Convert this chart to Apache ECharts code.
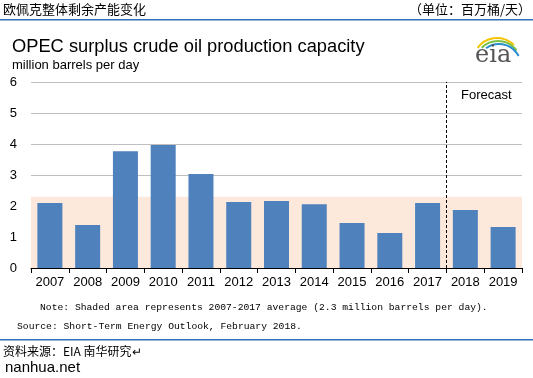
<!DOCTYPE html>
<html>
<head>
<meta charset="utf-8">
<script src="https://cdn.jsdelivr.net/npm/echarts@6/dist/echarts.min.js"></script>
<style>
html,body{margin:0;padding:0;background:#fff;}
#myChart{width:533px;height:378px;}
</style>
</head>
<body>
<div id="myChart"></div>
<script>
var years = ['2007','2008','2009','2010','2011','2012','2013','2014','2015','2016','2017','2018','2019'];
var capacity = [2.10, 1.39, 3.77, 3.97, 3.03, 2.13, 2.16, 2.06, 1.45, 1.13, 2.10, 1.87, 1.32];
var yTicks = [0, 1, 2, 3, 4, 5, 6];
var avgBand = 2.3;          // 2007-2017 平均值
var forecastStart = 11;     // 2018 之前的分隔位置

var myChart = echarts.init(document.getElementById('myChart'));
var sans = '"Liberation Sans", Arial, sans-serif';
var mono = '"Liberation Mono", "DejaVu Sans Mono", monospace';
var cjk = '"Noto Sans CJK SC", sans-serif';

myChart.setOption({
    animation: false,
    grid: {left: 31, right: 11, top: 82, bottom: 110},
    xAxis: [{
        type: 'category',
        data: years,
        axisLine: {lineStyle: {color: '#000', width: 1}},
        axisTick: {show: true, length: 5, lineStyle: {color: '#000'}},
        axisLabel: {color: '#000', fontFamily: sans, fontSize: 13, margin: 8}
    }, {
        type: 'value',
        min: 0,
        max: years.length,
        show: false
    }],
    yAxis: {
        type: 'value',
        min: yTicks[0],
        max: yTicks[yTicks.length - 1],
        interval: 1,
        axisLine: {show: false},
        axisTick: {show: false},
        axisLabel: {color: '#000', fontFamily: sans, fontSize: 13, margin: 14},
        splitLine: {lineStyle: {color: '#bfbfbf', width: 1}}
    },
    series: [
        {
            /*平均值阴影区 + 预测分隔线*/
            type: 'line',
            xAxisIndex: 1,
            data: [],
            markArea: {
                silent: true,
                itemStyle: {color: '#fde9db'},
                data: [[{yAxis: 0, xAxis: 0}, {yAxis: avgBand, xAxis: years.length}]]
            },
            markLine: {
                silent: true,
                symbol: 'none',
                label: {show: false},
                lineStyle: {color: '#000', type: [3, 2], width: 1},
                data: [{xAxis: forecastStart}]
            },
            z: 1
        },
        {
            name: 'capacity',
            type: 'bar',
            data: capacity,
            barWidth: 25,
            itemStyle: {color: '#4f81bd'},
            z: 3
        }
    ],
    graphic: [
        {type: 'text', left: 3, top: 3, style: {text: '欧佩克整体剩余产能变化', font: '13px ' + cjk, fill: '#000'}},
        {type: 'text', right: 2, top: 3, style: {text: '（单位：百万桶/天）', font: '13px ' + cjk, fill: '#000'}},
        {type: 'rect', shape: {x: 0, y: 19, width: 533, height: 1.5}, style: {fill: '#2e6fb5'}},
        {type: 'text', left: 12, top: 38, style: {text: 'OPEC surplus crude oil production capacity', font: '18.3px ' + sans, fill: '#000'}},
        {type: 'text', left: 12, top: 59, style: {text: 'million barrels per day', font: '13px ' + sans, fill: '#000'}},
        /*eia 标志*/
        {type: 'arc', shape: {cx: 497, cy: 62, r: 24, startAngle: Math.PI * 1.2, endAngle: Math.PI * 1.75}, style: {stroke: '#f5c400', lineWidth: 2, fill: null}},
        {type: 'arc', shape: {cx: 498, cy: 64, r: 23, startAngle: Math.PI * 1.25, endAngle: Math.PI * 1.8}, style: {stroke: '#7cc242', lineWidth: 2, fill: null}},
        {type: 'arc', shape: {cx: 499, cy: 66, r: 22, startAngle: Math.PI * 1.3, endAngle: Math.PI * 1.85}, style: {stroke: '#2a8fd0', lineWidth: 2, fill: null}},
        {type: 'text', left: 475, top: 44, style: {text: 'eia', font: '24px "DejaVu Serif", "Liberation Serif", serif', fill: '#555'}},
        {type: 'text', left: 461, top: 89, style: {text: 'Forecast', font: '13px ' + sans, fill: '#000'}},
        {type: 'text', left: 40, top: 302, style: {text: 'Note: Shaded area represents 2007-2017 average (2.3 million barrels per day).', font: '9.7px ' + mono, fill: '#000'}},
        {type: 'text', left: 17, top: 321, style: {text: 'Source: Short-Term Energy Outlook, February 2018.', font: '9.7px ' + mono, fill: '#000'}},
        {type: 'rect', shape: {x: 0, y: 339, width: 533, height: 1.5}, style: {fill: '#2e6fb5'}},
        {type: 'text', left: 3, top: 345, style: {text: '资料来源：EIA 南华研究↵', font: '12px ' + cjk, fill: '#000'}},
        {type: 'text', left: 5, top: 360, style: {text: 'nanhua.net', font: '15px ' + sans, fill: '#000'}}
    ]
});
</script>
</body>
</html>
